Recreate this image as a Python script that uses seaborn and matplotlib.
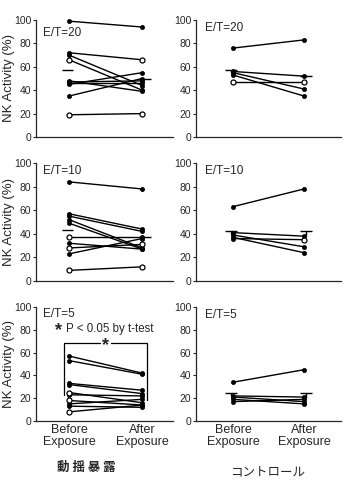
import numpy as np
import pandas as pd
import matplotlib
matplotlib.use("Agg")
import matplotlib.pyplot as plt
import seaborn as sns

# ---------------- data ----------------
phases = ["Before\nExposure", "After\nExposure"]
ratios = ["E/T=20", "E/T=10", "E/T=5"]
group_captions = ["動 揺 暴 露", "コントロール"]

# exposure group (left column)
exp_before_20 = [99, 72, 70, 66, 48, 47, 46, 45, 35, 19]
exp_after_20 = [94, 66, 44, 40, 39, 48, 46, 55, 50, 20]
exp_open_b_20 = [0, 0, 0, 1, 0, 0, 0, 0, 0, 1]
exp_open_a_20 = [0, 1, 0, 0, 0, 0, 0, 0, 0, 1]

exp_before_10 = [84, 57, 55, 52, 49, 37, 32, 28, 23, 9]
exp_after_10 = [78, 44, 42, 28, 27, 37, 27, 31, 36, 12]
exp_open_b_10 = [0, 0, 0, 0, 0, 1, 0, 1, 0, 1]
exp_open_a_10 = [0, 0, 0, 0, 0, 0, 0, 1, 0, 1]

exp_before_5 = [57, 53, 33, 32, 25, 23, 18, 15, 13, 8]
exp_after_5 = [42, 41, 27, 24, 16, 22, 14, 19, 12, 14]
exp_open_b_5 = [0, 0, 0, 0, 1, 0, 1, 0, 0, 1]
exp_open_a_5 = [0, 0, 0, 0, 0, 0, 0, 0, 0, 0]

# control group (right column)
ctl_before_20 = [76, 56, 55, 53, 47]
ctl_after_20 = [83, 52, 41, 35, 47]
ctl_open_b_20 = [0, 0, 0, 0, 1]
ctl_open_a_20 = [0, 0, 0, 0, 1]

ctl_before_10 = [63, 41, 39, 37, 36]
ctl_after_10 = [78, 38, 29, 24, 35]
ctl_open_b_10 = [0, 0, 0, 0, 0]
ctl_open_a_10 = [0, 0, 0, 0, 1]

ctl_before_5 = [34, 22, 21, 19, 17]
ctl_after_5 = [45, 21, 17, 15, 19]
ctl_open_b_5 = [0, 0, 0, 0, 0]
ctl_open_a_5 = [0, 0, 0, 0, 0]

# group means (short dashes) / mean + SE caps
exp_mean_before = [57, 43, 23]
exp_mean_after = [50, 37, 18]
ctl_mean_before = [55, 40, 22]
ctl_top_before = [57, 42, 25]
ctl_mean_after = [52, 38, 20]
ctl_top_after = [52, 42, 25]

# significance bracket (bottom-left panel)
bracket_top = 68
sig_text = "P < 0.05 by t-test"

# ---------------- style ----------------
sns.set_style("ticks")
plt.rcParams["font.family"] = ["Liberation Sans", "DejaVu Sans"]
plt.rcParams["axes.linewidth"] = 0.9

fig = plt.figure(figsize=(3.49, 4.84), dpi=100)
W, H = 349, 484


def axes_px(x0, x1, ytop, ybot):
    return fig.add_axes([x0 / W, 1 - ybot / H, (x1 - x0) / W, (ybot - ytop) / H])


rows_px = [(20, 137), (163, 281), (307, 421)]
left_axes = [axes_px(36, 173, t, b) for t, b in rows_px]
right_axes = [axes_px(196, 341, t, b) for t, b in rows_px]

exp_data = [
    (exp_before_20, exp_after_20, exp_open_b_20, exp_open_a_20),
    (exp_before_10, exp_after_10, exp_open_b_10, exp_open_a_10),
    (exp_before_5, exp_after_5, exp_open_b_5, exp_open_a_5),
]
ctl_data = [
    (ctl_before_20, ctl_after_20, ctl_open_b_20, ctl_open_a_20),
    (ctl_before_10, ctl_after_10, ctl_open_b_10, ctl_open_a_10),
    (ctl_before_5, ctl_after_5, ctl_open_b_5, ctl_open_a_5),
]


def long_df(before, after, ob, oa):
    n = len(before)
    return pd.DataFrame({
        "subj": list(range(n)) * 2,
        "phase": [0] * n + [1] * n,
        "value": list(before) + list(after),
        "open": list(ob) + list(oa),
    })


def draw_panel(ax, data, xlim):
    df = long_df(*data)
    sns.lineplot(data=df, x="phase", y="value", units="subj", estimator=None,
                 color="black", lw=1.0, ax=ax, legend=False)
    filled = df[df["open"] == 0]
    opened = df[df["open"] == 1]
    sns.scatterplot(data=filled, x="phase", y="value", color="black", s=9,
                    marker="o", edgecolor="black", linewidth=0.5, ax=ax,
                    legend=False, zorder=3, clip_on=False)
    sns.scatterplot(data=opened, x="phase", y="value", facecolor="white", s=13,
                    marker="o", edgecolor="black", linewidth=0.9, ax=ax,
                    legend=False, zorder=4, clip_on=False)
    ax.set_xlim(*xlim)
    ax.set_ylim(0, 100)
    ax.set_yticks([0, 20, 40, 60, 80, 100])
    ax.tick_params(axis="y", labelsize=7.5, length=2.5, width=0.8, pad=1)
    ax.tick_params(axis="x", length=0, labelsize=9, pad=2)
    ax.set_xticks([0, 1])
    ax.set_xlabel("")
    ax.set_ylabel("")
    sns.despine(ax=ax)


label_y = [[0.89, 0.93, 0.94], [0.93, 0.93, 0.93]]

for i, ax in enumerate(left_axes):
    draw_panel(ax, exp_data[i], (-0.45, 1.42))
    ax.text(0.05, label_y[0][i], ratios[i], transform=ax.transAxes,
            fontsize=8.5, ha="left", va="center")
    ax.set_ylabel("NK Activity (%)", fontsize=9.5)
    ax.yaxis.set_label_coords(-0.155, 0.5)
    if i < 2:
        ax.hlines(exp_mean_before[i], -0.1, 0.05, color="black", lw=1.0)
        ax.hlines(exp_mean_after[i], 0.95, 1.12, color="black", lw=1.0)

for i, ax in enumerate(right_axes):
    draw_panel(ax, ctl_data[i], (-0.52, 1.52))
    ax.text(0.06, label_y[1][i], ratios[i], transform=ax.transAxes,
            fontsize=8.5, ha="left", va="center")
    # mean + SE caps
    for xm, m, top in [(-0.03, ctl_mean_before[i], ctl_top_before[i]),
                       (1.03, ctl_mean_after[i], ctl_top_after[i])]:
        ax.vlines(xm, m, top, color="black", lw=1.0)
        ax.hlines(top, xm - 0.08, xm + 0.08, color="black", lw=1.0)

for ax in left_axes[:2] + right_axes[:2]:
    ax.set_xticklabels([])

for ax in (left_axes[2], right_axes[2]):
    ax.set_xticklabels(phases, fontsize=9, linespacing=1.0)

# significance bracket on bottom-left
axb = left_axes[2]
xl, xr = -0.07, 1.06
axb.plot([xl, xl, 0.42], [exp_mean_before[2], bracket_top, bracket_top],
         color="black", lw=0.9)
axb.plot([0.58, xr, xr], [bracket_top, bracket_top, exp_mean_after[2]],
         color="black", lw=0.9)
axb.text(0.50, bracket_top - 2, "*", fontsize=13, ha="center", va="center",
         fontweight="bold")
axb.text(-0.14, 79, "*", fontsize=13, ha="center", va="center",
         fontweight="bold")
axb.text(-0.04, 81, sig_text, fontsize=8.3, ha="left", va="center")

# group captions
fig.text(86 / W, 1 - 467 / H, group_captions[0], fontsize=9,
         family=["Noto Sans CJK JP", "DejaVu Sans"], ha="center", va="center",
         fontweight="bold")
fig.text(268 / W, 1 - 472 / H, group_captions[1], fontsize=9,
         family=["Noto Sans CJK JP", "DejaVu Sans"], ha="center", va="center")

fig.savefig("out.png", dpi=100)
